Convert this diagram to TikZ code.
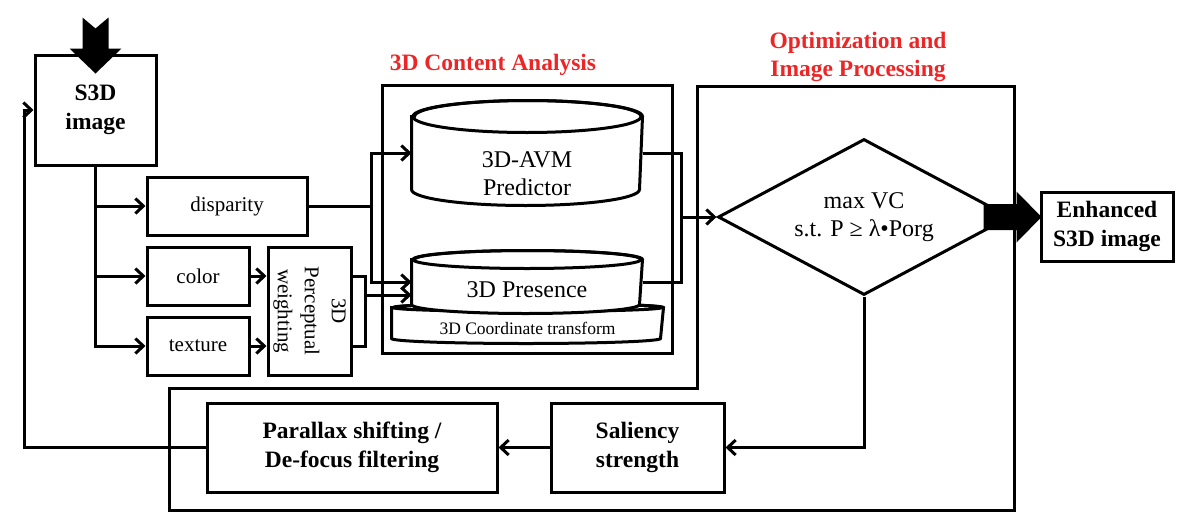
\documentclass[tikz,border=0pt]{standalone}
\usepackage{fontspec}
\setmainfont{Liberation Serif}
\usetikzlibrary{arrows.meta,shapes.geometric}
\definecolor{titlered}{RGB}{236,38,38}
\tikzset{
  box/.style={draw, inner sep=0pt, align=center, font=\fontsize{21}{27}\selectfont},
  boldbox/.style={box, font=\bfseries\fontsize{23.5}{29}\selectfont},
  body/.style={inner sep=0pt},
  lbl/.style={align=center, font=\fontsize{24}{28}\selectfont},
  title/.style={align=center, text=titlered, font=\bfseries\fontsize{23.5}{28}\selectfont},
  arr/.style={-{Straight Barb[length=8pt,width=15pt]}}
}

\begin{document}
\begin{tikzpicture}[x=1pt,y=-1pt,line width=3pt]
                \useasboundingbox (0,0) rectangle (1182,517);
                \node[boldbox,minimum width=121pt,minimum height=110pt] (s3d) at (95.5,110) {S3D\\image};
                \node[box,minimum width=160pt,minimum height=58pt] (disp) at (227,206) {disparity};
                \node[box,minimum width=102pt,minimum height=58pt] (color) at (198,276) {color};
                \node[box,minimum width=102pt,minimum height=58pt] (texture) at (198,346) {texture};
                \node[box,minimum width=83pt,minimum height=128pt] (wgt) at (309.5,311) {};
                \node[rotate=-90,align=center,font=\fontsize{21}{27}\selectfont] (wgtlbl) at (wgt.center) {3D\\Perceptual\\weighting};
                \node[box,minimum width=290pt,minimum height=268pt] (cab) at (527,219) {};
                \node[title] (catitle) at (493,65) {3D Content Analysis};
                \node[body,minimum width=269pt,minimum height=28pt] (disk) at (527.5,323) {};
                \draw[fill=white] (disk.north west) -- (disk.south west) arc[start angle=180,end angle=360,x radius=134.5pt,y radius=5pt] -- (disk.north east) arc[start angle=0,end angle=180,x radius=134.5pt,y radius=4pt] -- cycle;
                \draw (disk.north) ellipse[x radius=134.5pt,y radius=4pt];
                \node[font=\fontsize{17.5}{20}\selectfont] (disklbl) at ([yshift=-5pt]disk.center) {3D Coordinate transform};
                \node[body,minimum width=228pt,minimum height=42pt] (pres) at (527,282) {};
                \draw[fill=white] (pres.north west) -- (pres.south west) arc[start angle=180,end angle=360,x radius=114pt,y radius=9pt] -- (pres.north east) arc[start angle=0,end angle=180,x radius=114pt,y radius=9pt] -- cycle;
                \draw (pres.north) ellipse[x radius=114pt,y radius=9pt];
                \node[lbl] (preslbl) at ([yshift=-8pt]pres.center) {3D Presence};
                \node[body,minimum width=228pt,minimum height=70pt] (avm) at (527,153) {};
                \draw[fill=white] (avm.north west) -- (avm.south west) arc[start angle=180,end angle=360,x radius=114pt,y radius=16pt] -- (avm.north east) arc[start angle=0,end angle=180,x radius=114pt,y radius=16pt] -- cycle;
                \draw (avm.north) ellipse[x radius=114pt,y radius=16pt];
                \node[lbl] (avmlbl) at ([yshift=-21pt]avm.center) {3D-AVM\\Predictor};
                \draw (697,86) -- (1014,86) -- (1014,510) -- (169,510) -- (169,388) -- (697,388) -- cycle;
                \node[title] (optitle) at (858,57) {Optimization and\\Image Processing};
                \node[draw,diamond,aspect=1.87,inner sep=0pt,minimum width=292pt,minimum height=156pt,lbl] (opt) at (864,217) {max VC\\s.t. P ≥ λ•Porg};
                \node[boldbox,minimum width=132pt,minimum height=69pt] (enh) at (1107,226.5) {Enhanced\\S3D image};
                \node[boldbox,minimum width=173pt,minimum height=89pt] (sal) at (637.5,447.5) {Saliency\\strength};
                \node[boldbox,minimum width=290pt,minimum height=89pt] (par) at (352,447.5) {Parallax shifting /\\De-focus filtering};
                \fill ([yshift=-20pt]s3d.north) -- ++(-26,-25) -- ++(13,0) -- ++(0,-31) -- ++(13,11) -- ++(13,-11) -- ++(0,31) -- ++(13,0) -- cycle;
                \draw[arr] (s3d.south) |- (disp.west);
                \draw[arr] (s3d.south) |- (color.west);
                \draw[arr] (s3d.south) |- (texture.west);
                \draw[arr] (par.west) -- ++(-181,0) |- (s3d.west);
                \draw[arr] (color.east) -- (color.east -| wgt.west);
                \draw[arr] (texture.east) -- (texture.east -| wgt.west);
                \draw (color.east -| wgt.east) -- ++(13,0) coordinate (wj) |- (texture.east -| wgt.east);
                \coordinate (pw) at ([yshift=-13pt]pres.west);
                \draw[arr] (wj |- pw) -- (pw);
                \draw (disp.east) -- ++(63,0) coordinate (dj);
                \draw[arr] (dj) |- (avm.west);
                \draw[arr] (dj) |- (pres.west);
                \draw (avm.east) -- ++(39,0) coordinate (cj) |- (pres.east);
                \draw[arr] (cj |- opt.west) -- (opt.west);
                \fill ([xshift=2pt]opt.east -| enh.west) -- ++(-25,-25.5) -- ++(0,12.5) -- ++(-33,0) -- ++(0,26) -- ++(33,0) -- ++(0,12.5) -- cycle;
                \draw[arr] (opt.south) |- (sal.east);
                \draw[arr] (sal.west) -- (par.east);
\end{tikzpicture}
\end{document}
